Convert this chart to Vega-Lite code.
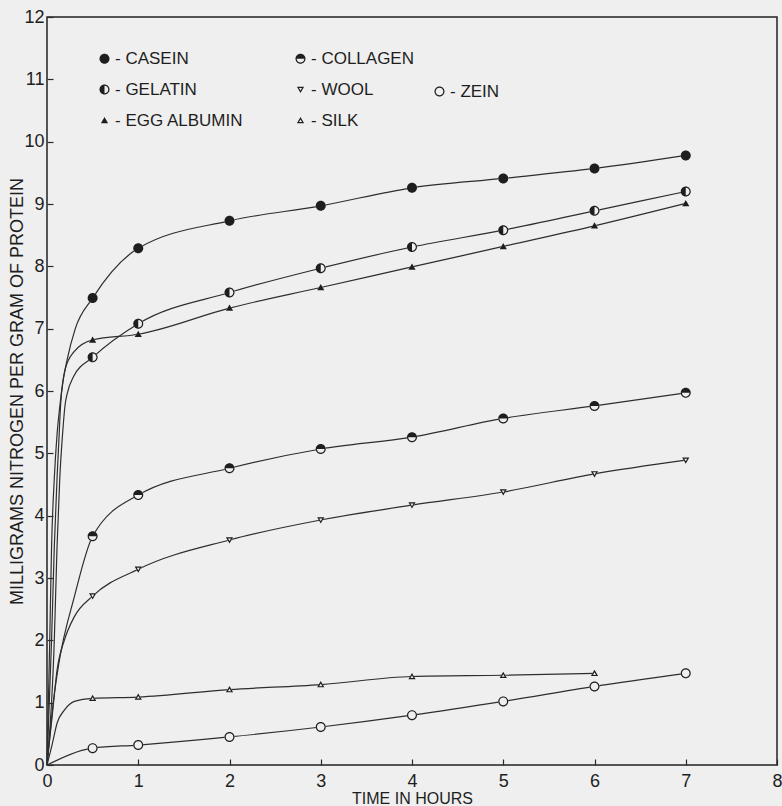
{
  "$schema": "https://vega.github.io/schema/vega-lite/v6.json",
  "width": 730,
  "height": 748,
  "autosize": {"type": "none"},
  "padding": {"left": 47, "top": 17, "right": 5, "bottom": 41},
  "background": "#efefef",
  "config": {
    "font": "Liberation Sans",
    "view": {"stroke": "#222222", "strokeWidth": 1.5},
    "axis": {"labelFont": "Liberation Sans", "titleFont": "Liberation Sans", "labelColor": "#1e1e1e", "titleColor": "#1e1e1e", "tickColor": "#2a2a2a", "titleFontWeight": "normal"}
  },
  "datasets": {
    "d": [
      {"protein": "CASEIN", "kind": "curve", "t": 0, "n": 0},
      {"protein": "CASEIN", "kind": "curve", "t": 0.03, "n": 2.0},
      {"protein": "CASEIN", "kind": "curve", "t": 0.05, "n": 3.5},
      {"protein": "CASEIN", "kind": "curve", "t": 0.08, "n": 4.6},
      {"protein": "CASEIN", "kind": "curve", "t": 0.11, "n": 5.3},
      {"protein": "CASEIN", "kind": "curve", "t": 0.14, "n": 5.75},
      {"protein": "CASEIN", "kind": "curve", "t": 0.18, "n": 6.2},
      {"protein": "CASEIN", "kind": "curve", "t": 0.22, "n": 6.5},
      {"protein": "CASEIN", "kind": "curve", "t": 0.31, "n": 7.0},
      {"protein": "CASEIN", "kind": "point", "t": 0.5, "n": 7.49},
      {"protein": "CASEIN", "kind": "point", "t": 1, "n": 8.29},
      {"protein": "CASEIN", "kind": "point", "t": 2, "n": 8.73},
      {"protein": "CASEIN", "kind": "point", "t": 3, "n": 8.97},
      {"protein": "CASEIN", "kind": "point", "t": 4, "n": 9.26},
      {"protein": "CASEIN", "kind": "point", "t": 5, "n": 9.41},
      {"protein": "CASEIN", "kind": "point", "t": 6, "n": 9.57},
      {"protein": "CASEIN", "kind": "point", "t": 7, "n": 9.78},

      {"protein": "EGG ALBUMIN", "kind": "curve", "t": 0, "n": 0},
      {"protein": "EGG ALBUMIN", "kind": "curve", "t": 0.05, "n": 2.0},
      {"protein": "EGG ALBUMIN", "kind": "curve", "t": 0.08, "n": 3.5},
      {"protein": "EGG ALBUMIN", "kind": "curve", "t": 0.11, "n": 4.6},
      {"protein": "EGG ALBUMIN", "kind": "curve", "t": 0.13, "n": 5.2},
      {"protein": "EGG ALBUMIN", "kind": "curve", "t": 0.15, "n": 5.8},
      {"protein": "EGG ALBUMIN", "kind": "curve", "t": 0.2, "n": 6.35},
      {"protein": "EGG ALBUMIN", "kind": "curve", "t": 0.29, "n": 6.62},
      {"protein": "EGG ALBUMIN", "kind": "point", "t": 0.5, "n": 6.82},
      {"protein": "EGG ALBUMIN", "kind": "point", "t": 1, "n": 6.91},
      {"protein": "EGG ALBUMIN", "kind": "point", "t": 2, "n": 7.33},
      {"protein": "EGG ALBUMIN", "kind": "point", "t": 3, "n": 7.66},
      {"protein": "EGG ALBUMIN", "kind": "point", "t": 4, "n": 7.99},
      {"protein": "EGG ALBUMIN", "kind": "point", "t": 5, "n": 8.32},
      {"protein": "EGG ALBUMIN", "kind": "point", "t": 6, "n": 8.65},
      {"protein": "EGG ALBUMIN", "kind": "point", "t": 7, "n": 9.01},

      {"protein": "GELATIN", "kind": "curve", "t": 0, "n": 0},
      {"protein": "GELATIN", "kind": "curve", "t": 0.08, "n": 2.0},
      {"protein": "GELATIN", "kind": "curve", "t": 0.11, "n": 3.5},
      {"protein": "GELATIN", "kind": "curve", "t": 0.14, "n": 4.6},
      {"protein": "GELATIN", "kind": "curve", "t": 0.17, "n": 5.3},
      {"protein": "GELATIN", "kind": "curve", "t": 0.2, "n": 5.8},
      {"protein": "GELATIN", "kind": "curve", "t": 0.22, "n": 5.95},
      {"protein": "GELATIN", "kind": "curve", "t": 0.29, "n": 6.23},
      {"protein": "GELATIN", "kind": "point", "t": 0.5, "n": 6.54},
      {"protein": "GELATIN", "kind": "point", "t": 1, "n": 7.08},
      {"protein": "GELATIN", "kind": "point", "t": 2, "n": 7.58},
      {"protein": "GELATIN", "kind": "point", "t": 3, "n": 7.97},
      {"protein": "GELATIN", "kind": "point", "t": 4, "n": 8.31},
      {"protein": "GELATIN", "kind": "point", "t": 5, "n": 8.58},
      {"protein": "GELATIN", "kind": "point", "t": 6, "n": 8.89},
      {"protein": "GELATIN", "kind": "point", "t": 7, "n": 9.2},

      {"protein": "COLLAGEN", "kind": "curve", "t": 0, "n": 0},
      {"protein": "COLLAGEN", "kind": "curve", "t": 0.077, "n": 1.1},
      {"protein": "COLLAGEN", "kind": "curve", "t": 0.13, "n": 1.63},
      {"protein": "COLLAGEN", "kind": "curve", "t": 0.3, "n": 2.7},
      {"protein": "COLLAGEN", "kind": "point", "t": 0.5, "n": 3.67},
      {"protein": "COLLAGEN", "kind": "point", "t": 1, "n": 4.33},
      {"protein": "COLLAGEN", "kind": "point", "t": 2, "n": 4.76},
      {"protein": "COLLAGEN", "kind": "point", "t": 3, "n": 5.07},
      {"protein": "COLLAGEN", "kind": "point", "t": 4, "n": 5.26},
      {"protein": "COLLAGEN", "kind": "point", "t": 5, "n": 5.56},
      {"protein": "COLLAGEN", "kind": "point", "t": 6, "n": 5.76},
      {"protein": "COLLAGEN", "kind": "point", "t": 7, "n": 5.97},

      {"protein": "WOOL", "kind": "curve", "t": 0, "n": 0},
      {"protein": "WOOL", "kind": "curve", "t": 0.06, "n": 0.83},
      {"protein": "WOOL", "kind": "curve", "t": 0.11, "n": 1.52},
      {"protein": "WOOL", "kind": "curve", "t": 0.19, "n": 2.0},
      {"protein": "WOOL", "kind": "curve", "t": 0.3, "n": 2.38},
      {"protein": "WOOL", "kind": "point", "t": 0.5, "n": 2.71},
      {"protein": "WOOL", "kind": "point", "t": 1, "n": 3.14},
      {"protein": "WOOL", "kind": "point", "t": 2, "n": 3.61},
      {"protein": "WOOL", "kind": "point", "t": 3, "n": 3.93},
      {"protein": "WOOL", "kind": "point", "t": 4, "n": 4.17},
      {"protein": "WOOL", "kind": "point", "t": 5, "n": 4.38},
      {"protein": "WOOL", "kind": "point", "t": 6, "n": 4.67},
      {"protein": "WOOL", "kind": "point", "t": 7, "n": 4.89},

      {"protein": "SILK", "kind": "curve", "t": 0, "n": 0},
      {"protein": "SILK", "kind": "curve", "t": 0.06, "n": 0.35},
      {"protein": "SILK", "kind": "curve", "t": 0.11, "n": 0.67},
      {"protein": "SILK", "kind": "curve", "t": 0.19, "n": 0.88},
      {"protein": "SILK", "kind": "curve", "t": 0.3, "n": 1.02},
      {"protein": "SILK", "kind": "point", "t": 0.5, "n": 1.07},
      {"protein": "SILK", "kind": "point", "t": 1, "n": 1.09},
      {"protein": "SILK", "kind": "point", "t": 2, "n": 1.21},
      {"protein": "SILK", "kind": "point", "t": 3, "n": 1.29},
      {"protein": "SILK", "kind": "point", "t": 4, "n": 1.42},
      {"protein": "SILK", "kind": "point", "t": 5, "n": 1.44},
      {"protein": "SILK", "kind": "point", "t": 6, "n": 1.47},

      {"protein": "ZEIN", "kind": "curve", "t": 0, "n": 0},
      {"protein": "ZEIN", "kind": "point", "t": 0.5, "n": 0.27},
      {"protein": "ZEIN", "kind": "point", "t": 1, "n": 0.32},
      {"protein": "ZEIN", "kind": "point", "t": 2, "n": 0.45},
      {"protein": "ZEIN", "kind": "point", "t": 3, "n": 0.61},
      {"protein": "ZEIN", "kind": "point", "t": 4, "n": 0.8},
      {"protein": "ZEIN", "kind": "point", "t": 5, "n": 1.02},
      {"protein": "ZEIN", "kind": "point", "t": 6, "n": 1.26},
      {"protein": "ZEIN", "kind": "point", "t": 7, "n": 1.47}
    ]
  },
  "data": {"name": "d"},
  "encoding": {
    "x": {
      "field": "t", "type": "quantitative",
      "scale": {"domain": [0, 8], "nice": false, "zero": false},
      "axis": {"title": "TIME IN HOURS", "values": [0, 1, 2, 3, 4, 5, 6, 7, 8], "format": "d", "grid": false, "domain": false,
               "tickSize": -6, "tickWidth": 1.2, "labelPadding": 13, "labelFontSize": 18, "titleFontSize": 16, "titleY": 25, "titleBaseline": "top", "labelFlush": false, "labelOverlap": false}
    },
    "y": {
      "field": "n", "type": "quantitative",
      "scale": {"domain": [0, 12], "nice": false},
      "axis": {"title": "MILLIGRAMS NITROGEN PER GRAM OF PROTEIN", "values": [0, 1, 2, 3, 4, 5, 6, 7, 8, 9, 10, 11, 12], "format": "d", "grid": false, "domain": false,
               "tickSize": -6, "tickWidth": 1.2, "labelPadding": 9, "labelFontSize": 18, "titleFontSize": 18, "titlePadding": -3, "labelFlush": false, "labelOverlap": false}
    }
  },
  "layer": [
    {
      "mark": {"type": "line", "interpolate": "monotone", "color": "#2e2e2e", "strokeWidth": 1.2},
      "encoding": {"detail": {"field": "protein"}, "order": {"field": "t"}}
    },
    {
      "transform": [{"filter": "datum.kind == 'point'"}],
      "mark": {"type": "point", "filled": true, "color": "#efefef", "strokeWidth": 0, "size": 100, "opacity": 1},
      "encoding": {
        "shape": {
          "field": "protein", "type": "nominal", "legend": null,
          "scale": {
            "domain": ["CASEIN", "COLLAGEN", "GELATIN", "WOOL", "EGG ALBUMIN", "SILK", "ZEIN"],
            "range": [
              "M-1,0A1,1,0,1,1,1,0A1,1,0,1,1,-1,0Z",
              "M-1,0A1,1,0,1,1,1,0A1,1,0,1,1,-1,0Z",
              "M-1,0A1,1,0,1,1,1,0A1,1,0,1,1,-1,0Z",
              "M0,0.7L0.72,-0.55L-0.72,-0.55Z",
              "M0,-0.7L0.72,0.55L-0.72,0.55Z",
              "M0,-0.7L0.72,0.55L-0.72,0.55Z",
              "M-1,0A1,1,0,1,1,1,0A1,1,0,1,1,-1,0Z"
            ]
          }
        }
      }
    },
    {
      "transform": [{"filter": "datum.kind == 'point' && datum.protein != 'ZEIN'"}],
      "mark": {"type": "point", "filled": true, "color": "#1e1e1e", "strokeWidth": 0, "size": 100, "opacity": 1},
      "encoding": {
        "shape": {
          "field": "protein", "type": "nominal",
          "scale": {
            "domain": ["CASEIN", "GELATIN", "EGG ALBUMIN", "COLLAGEN", "WOOL", "SILK"],
            "range": [
              "M-1,0A1,1,0,1,1,1,0A1,1,0,1,1,-1,0Z",
              "M0,-1A1,1,0,0,0,0,1A1,1,0,0,0,0,-1ZM0,-0.76A0.76,0.76,0,0,1,0,0.76Z",
              "M0,-0.7L0.72,0.55L-0.72,0.55Z",
              "M-1,0A1,1,0,0,1,1,0A1,1,0,0,1,-1,0ZM-0.76,0A0.76,0.76,0,0,0,0.76,0Z",
              "M0,0.7L0.72,-0.55L-0.72,-0.55ZM0,0.219L-0.305,-0.31L0.305,-0.31Z",
              "M0,-0.7L0.72,0.55L-0.72,0.55ZM0,-0.219L-0.305,0.31L0.305,0.31Z"
            ]
          },
          "legend": {
            "title": null, "orient": "none", "legendX": 49, "legendY": 33, "columns": 2,
            "columnPadding": 48, "rowPadding": 13, "padding": 0,
            "symbolSize": 100, "symbolFillColor": "#1e1e1e", "symbolStrokeWidth": 0, "symbolOpacity": 1,
            "labelFont": "Liberation Sans", "labelFontSize": 17, "labelColor": "#1e1e1e", "labelOffset": 2,
            "labelExpr": "'- ' + datum.label", "labelLimit": 300
          }
        }
      }
    },
    {
      "transform": [{"filter": "datum.kind == 'point' && datum.protein == 'ZEIN'"}],
      "mark": {"type": "point", "filled": true, "color": "#1e1e1e", "strokeWidth": 0, "size": 100, "opacity": 1},
      "encoding": {
        "shape": {
          "field": "protein", "type": "nominal",
          "scale": {
            "domain": ["ZEIN"],
            "range": ["M-1,0A1,1,0,1,1,1,0A1,1,0,1,1,-1,0ZM-0.76,0A0.76,0.76,0,1,0,0.76,0A0.76,0.76,0,1,0,-0.76,0Z"]
          },
          "legend": {
            "title": null, "orient": "none", "legendX": 384, "legendY": 66, "padding": 0,
            "symbolSize": 100, "symbolFillColor": "#1e1e1e", "symbolStrokeWidth": 0, "symbolOpacity": 1,
            "labelFont": "Liberation Sans", "labelFontSize": 17, "labelColor": "#1e1e1e", "labelOffset": 2,
            "labelExpr": "'- ' + datum.label", "labelLimit": 300
          }
        }
      }
    }
  ],
  "resolve": {"scale": {"shape": "independent"}, "legend": {"shape": "independent"}}
}
